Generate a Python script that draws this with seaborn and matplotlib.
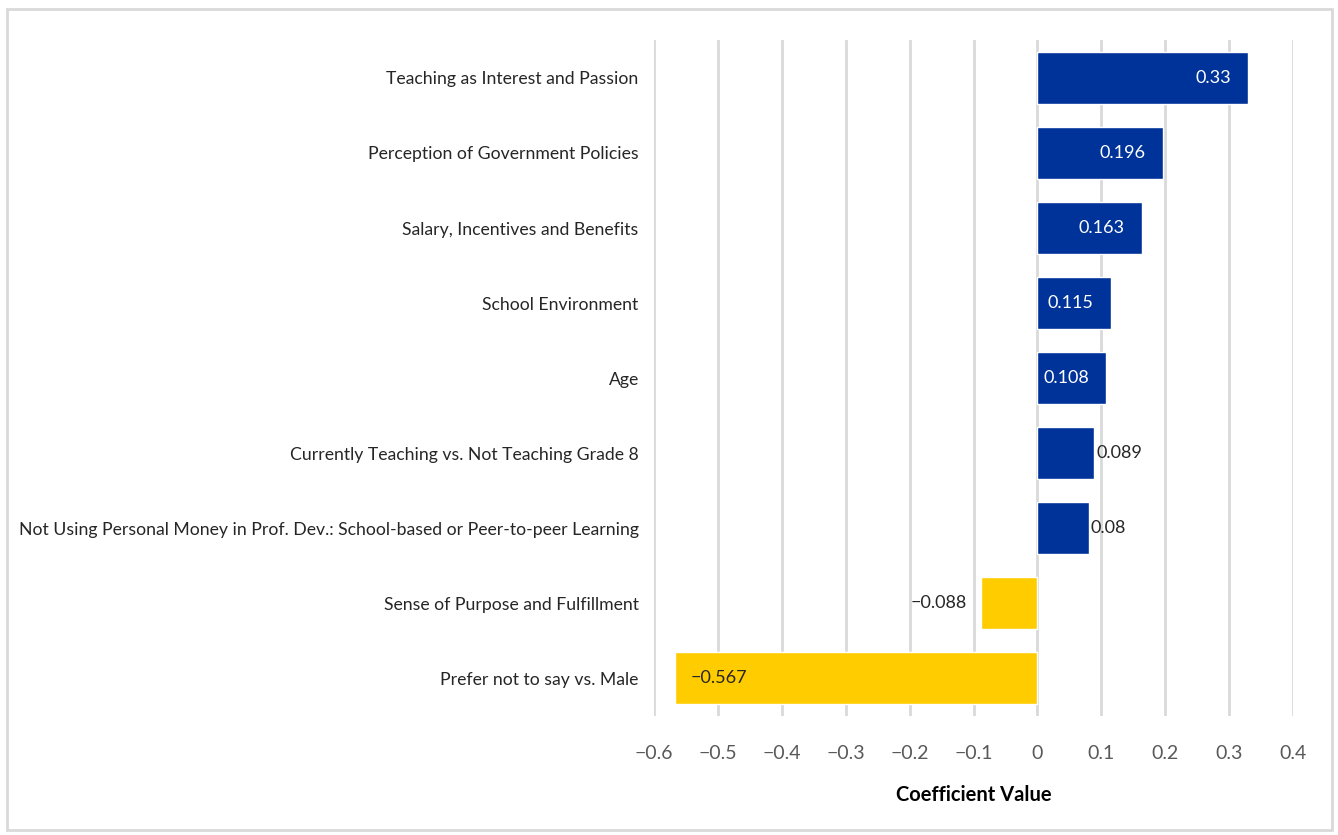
import matplotlib
matplotlib.use("Agg")
import matplotlib.pyplot as plt
import seaborn as sns
import pandas as pd
from matplotlib.patches import Rectangle

factors = [
    "Teaching as Interest and Passion",
    "Perception of Government Policies",
    "Salary, Incentives and Benefits",
    "School Environment",
    "Age",
    "Currently Teaching vs. Not Teaching Grade 8",
    "Not Using Personal Money in Prof. Dev.: School-based or Peer-to-peer Learning",
    "Sense of Purpose and Fulfillment",
    "Prefer not to say vs. Male",
]
coefficients = [0.33, 0.196, 0.163, 0.115, 0.108, 0.089, 0.08, -0.088, -0.567]
value_labels = ["0.33", "0.196", "0.163", "0.115", "0.108", "0.089", "0.08", "\u22120.088", "\u22120.567"]
tick_values = [-0.6, -0.5, -0.4, -0.3, -0.2, -0.1, 0, 0.1, 0.2, 0.3, 0.4]
tick_labels = ["\u22120.6", "\u22120.5", "\u22120.4", "\u22120.3", "\u22120.2", "\u22120.1", "0", "0.1", "0.2", "0.3", "0.4"]

BLUE = "#003399"
YELLOW = "#FFCC00"

df = pd.DataFrame({"factor": factors, "coef": coefficients})
df["sign"] = ["pos" if v >= 0 else "neg" for v in coefficients]

sns.set_theme(style="white")
plt.rcParams["font.family"] = ["Lato", "DejaVu Sans"]

fig = plt.figure(figsize=(13.38, 8.35), dpi=100)
ax = fig.add_axes([0.4888, 0.1431, 0.4776, 0.8084])

sns.barplot(data=df, x="coef", y="factor", hue="sign", order=factors,
            palette={"pos": BLUE, "neg": YELLOW}, orient="h", width=0.7,
            saturation=1, dodge=False, legend=False, ax=ax, zorder=3)

ax.set_xlim(-0.6, 0.4)
ax.set_ylim(len(factors) - 0.5, -0.5)
ax.set_xticks(tick_values)
ax.set_xticklabels(tick_labels, fontsize=14, color="#595959")
ax.tick_params(axis="x", length=0, pad=21)
ax.tick_params(axis="y", length=0, pad=11, labelsize=12.7, labelcolor="#262626")
ax.grid(axis="x", color="#d9d9d9", linewidth=2, zorder=0)
ax.grid(axis="y", visible=False)
for s in ax.spines.values():
    s.set_visible(False)
ax.set_ylabel("")
ax.set_xlabel("Coefficient Value", fontsize=14.5, fontweight="bold", color="black", labelpad=17)

# value labels: inside for long bars, outside for short ones
for i, (v, lab) in enumerate(zip(coefficients, value_labels)):
    if v >= 0.1:
        ax.text(v - 0.027, i, lab, ha="right", va="center", color="white", fontsize=13, zorder=4)
    elif v >= 0:
        ax.text(v + 0.003, i, lab, ha="left", va="center", color="#262626", fontsize=13, zorder=4)
    elif v > -0.3:
        ax.text(v - 0.023, i, lab, ha="right", va="center", color="#262626", fontsize=13, zorder=4)
    else:
        ax.text(v + 0.025, i, lab, ha="left", va="center", color="#262626", fontsize=13, zorder=4)

# light frame around the whole figure
fig.patches.append(Rectangle((0.0055, 0.006), 0.99, 0.983, transform=fig.transFigure,
                             fill=False, edgecolor="#d9d9d9", linewidth=2))

fig.savefig("out.png", dpi=100)
